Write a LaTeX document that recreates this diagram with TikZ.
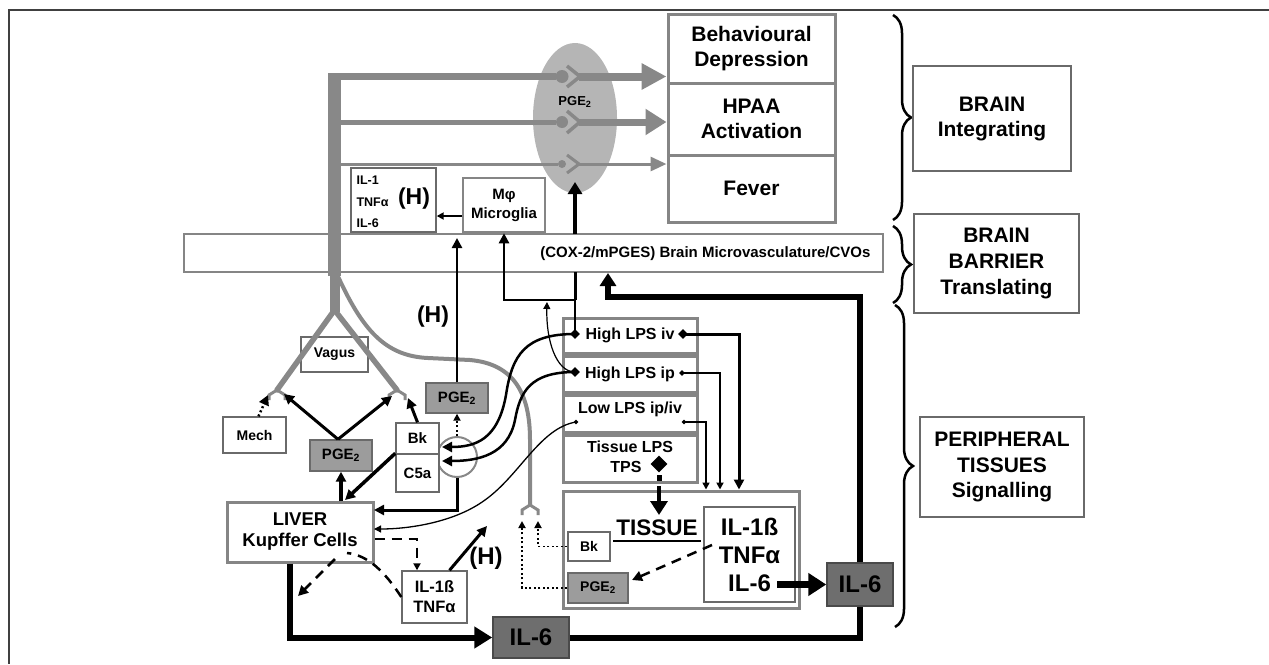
\documentclass[tikz,border=0pt]{standalone}
\usepackage{fontspec}
\setmainfont{Liberation Sans}
\usetikzlibrary{arrows.meta,decorations.pathreplacing,shapes.geometric}
\definecolor{boxg}{HTML}{858585}
\definecolor{thing}{HTML}{6A6A6A}
\definecolor{nerveg}{HTML}{888888}
\definecolor{ellg}{HTML}{B5B5B5}
\definecolor{pgeg}{HTML}{9C9C9C}
\definecolor{ilg}{HTML}{6E6E6E}
\definecolor{iledge}{HTML}{4A4A4A}
\definecolor{framec}{HTML}{404040}
\newcommand\myfs[2]{\fontsize{#1}{#2}\selectfont\bfseries}
\begin{document}
\begin{tikzpicture}[x=1pt,y=-1pt,
  bigbox/.style={draw=boxg, line width=3pt, fill=white, inner sep=0pt, align=center},
  thinbox/.style={draw=thing, line width=1.4pt, fill=white, inner sep=0pt, align=center},
  pgebox/.style={draw=thing, line width=1.4pt, fill=pgeg, inner sep=0pt, align=center},
  ilbox/.style={draw=iledge, line width=1.5pt, fill=ilg, inner sep=0pt, align=center, font=\myfs{24}{28}},
  nerve/.style={draw=nerveg},
  tipS/.style={-{Triangle[length=7pt,width=7pt]}},
  tipM/.style={-{Triangle[length=10pt,width=10pt]}},
  tipL/.style={-{Triangle[length=18pt,width=21pt]}},
  dia/.style={diamond, fill=black, inner sep=0pt},
  dashd/.style={dash pattern=on 10pt off 7pt},
  dotd/.style={dash pattern=on 2pt off 2.5pt},
  rfork/.pic={\draw[nerveg, line width=3pt] (-8,10)--(-8,5)--(0,0)--(8,5)--(8,10);},
  bracestyle/.style={decorate, decoration={brace, amplitude=18pt}, line width=2.5pt}
]
\useasboundingbox (0,0) rectangle (1269,664);
% frame
\draw[framec, line width=2pt] (8,9.5) -- (1269,9.5);
\draw[framec, line width=2pt] (9,9) -- (9,664);

% braces
\draw[bracestyle] (893,15) -- (893,220);
\draw[bracestyle] (893,226) -- (893,303);
\draw[bracestyle] (895,305) -- (895,627);

% right label boxes
\node[thinbox, minimum width=158pt, minimum height=105pt, font=\myfs{21}{25}] (bi) at (992,118.5) {BRAIN\\Integrating};
\node[thinbox, minimum width=165pt, minimum height=99pt, font=\myfs{21}{26}] (bb) at (996.5,263.5) {BRAIN\\BARRIER\\Translating};
\node[thinbox, minimum width=164pt, minimum height=100pt, font=\myfs{21}{25.5}] (pt) at (1002,467) {PERIPHERAL\\TISSUES\\Signalling};

% brain output boxes
\node[bigbox, minimum width=167pt, minimum height=69pt, font=\myfs{21}{25}] (beh) at (751.5,48.5) {Behavioural\\Depression};
\node[bigbox, minimum width=167pt, minimum height=72pt, font=\myfs{21}{25}] (hpaa) at (751.5,119) {HPAA\\Activation};
\node[bigbox, minimum width=167pt, minimum height=67pt, font=\myfs{21}{25}] (fev) at (751.5,188.5) {Fever};

% ellipse
\node[ellipse, fill=ellg, minimum width=84pt, minimum height=150pt, inner sep=0pt] (ell) at (575,118) {};
\node[font=\myfs{13}{15}] (pgeell) at (575,102) {PGE\textsubscript{2}};

% microvasculature bar
\node[draw=boxg, line width=1.8pt, minimum width=699pt, minimum height=38pt, inner sep=0pt] (vasc) at (533.5,253) {};
\node[anchor=east, font=\myfs{15}{18}] (vasctxt) at (874,254) {(COX-2/mPGES) Brain Microvasculature/CVOs};

% vagus box (under nerve)
\node[thinbox, minimum width=67pt, minimum height=35pt, font=\myfs{14}{16}] (vagus) at (334.5,354.5) {Vagus};

% nerves
\draw[nerve, line width=13pt] (334.5,73) -- (334.5,276);
\draw[nerve, line width=10pt] (334.5,270) -- (334.5,312);
\draw[nerve, line width=5.5pt, line cap=round] (334.5,310) -- (277,390);
\draw[nerve, line width=5.5pt, line cap=round] (334.5,310) -- (397,390);
\pic at (277,390) {rfork};
\pic at (397,390) {rfork};
\draw[nerve, line width=4pt] (336,272) .. controls (362,330) and (385,356) .. (428,358) -- (470,360) .. controls (515,364) and (530,395) .. (530,440) -- (530,505);
\pic at (530,505) {rfork};

\draw[nerve, line width=7pt] (328,76.5) -- (556,76.5);
\draw[nerve, line width=5pt] (340,122) -- (556,122);
\draw[nerve, line width=3pt] (340,164) -- (558,164);
\fill[nerveg] (562,76.5) circle (6.5pt);
\fill[nerveg] (562,122) circle (6pt);
\fill[nerveg] (562,164) circle (4pt);
\draw[nerve, line width=3.5pt] (567,66) -- (580,76.5) -- (567,87);
\draw[nerve, line width=3.5pt] (567,111) -- (580,122) -- (567,133);
\draw[nerve, line width=3pt] (567,155) -- (579,164) -- (567,173);
\draw[nerve, line width=8pt, -{Triangle[length=25pt,width=25pt]}] (579,76.5) -- (beh.west |- 0,76.5);
\draw[nerve, line width=7pt, -{Triangle[length=21pt,width=25pt]}] (579,122) -- (hpaa.west |- 0,122);
\draw[nerve, line width=3pt, -{Triangle[length=16pt,width=14pt]}] (578,164) -- (fev.west |- 0,164);

% brain cytokine boxes
\node[thinbox, minimum width=85pt, minimum height=64pt] (ilb) at (393.5,200) {};
\node[anchor=west, font=\myfs{12.5}{14}] (ilb1) at (353,180) {IL-1};
\node[anchor=west, font=\myfs{12.5}{14}] (ilb2) at (353,202) {TNFα};
\node[anchor=west, font=\myfs{12.5}{14}] (ilb3) at (353,223) {IL-6};
\node[font=\myfs{23}{26}] (ilbh) at (414,199) {(H)};
\node[bigbox, line width=2.5pt, minimum width=82pt, minimum height=54pt, font=\myfs{15}{19}] (mic) at (504,205) {Mφ\\Microglia};
\draw[line width=2pt, tipS] ([yshift=-11pt]mic.west) -- ([yshift=-16pt]ilb.east);

% LPS boxes
\node[bigbox, minimum width=134pt, minimum height=35pt, font=\myfs{16}{19}] (hiv) at (630,335.5) {High LPS iv};
\node[bigbox, minimum width=134pt, minimum height=36pt, font=\myfs{16}{19}] (hip) at (630,374) {High LPS ip};
\node[bigbox, minimum width=134pt, minimum height=37pt] (low) at (630,413.5) {};
\node[font=\myfs{16}{19}] (lowtxt) at (630,409) {Low LPS ip/iv};
\node[bigbox, minimum width=134pt, minimum height=47pt] (tis) at (630,458.5) {};
\node[font=\myfs{16}{19}] (tistxt) at (630,447) {Tissue LPS};
\node[font=\myfs{16}{19}] (tpstxt) at (626,467) {TPS};
\node[dia, minimum size=17pt] (tpsd) at (659,464) {};

\node[dia, minimum size=10pt] (hivL) at (575,334) {};
\node[dia, minimum size=10pt] (hivR) at (683,334) {};
\node[dia, minimum size=10pt] (hipL) at (575,372) {};
\node[dia, minimum size=6pt] (hipR) at (682,373) {};
\node[dia, minimum size=5pt] (lowL) at (576,422) {};
\node[dia, minimum size=5pt] (lowR) at (684,422) {};

% tissue box
\node[bigbox, minimum width=236pt, minimum height=117pt] (tiss) at (681,549.5) {};
\node[thinbox, minimum width=91pt, minimum height=95pt, font=\myfs{24}{28}] (cyt) at (749.5,554.5) {IL-1ß\\TNFα\\IL-6};
\node[font=\myfs{22.5}{26}] (tisstxt) at (657,528) {TISSUE};
\draw[line width=2pt] (613,541) -- (701,541);
\node[thinbox, minimum width=42pt, minimum height=29pt, font=\myfs{14}{16}] (tbk) at (589,546.5) {Bk};
\node[pgebox, minimum width=60pt, minimum height=30pt, font=\myfs{14}{16}] (tpge) at (598,588) {PGE\textsubscript{2}};
\node[ilbox, minimum width=66pt, minimum height=43pt] (il6r) at (860,584.5) {IL-6};
\node[ilbox, minimum width=76pt, minimum height=41pt] (il6b) at (531,637.5) {IL-6};

% peripheral left
\node[bigbox, minimum width=146pt, minimum height=60pt, font=\myfs{18.5}{21}] (liver) at (300,532) {LIVER\\Kupffer Cells};
\node[pgebox, minimum width=62pt, minimum height=31pt, font=\myfs{15}{17}] (lpge) at (341,455.5) {PGE\textsubscript{2}};
\node[thinbox, minimum width=63pt, minimum height=36pt, font=\myfs{14}{16}] (mech) at (254.5,435) {Mech};
\node[circle, draw=nerveg, line width=2pt, minimum size=40pt, inner sep=0pt] (circ) at (457,457) {};
\node[thinbox, minimum width=43pt, minimum height=31pt, font=\myfs{15}{17}] (bk) at (417.5,438.5) {Bk};
\node[thinbox, minimum width=43pt, minimum height=38pt, font=\myfs{15}{17}] (c5a) at (417.5,473) {C5a};
\node[pgebox, minimum width=62pt, minimum height=30pt, font=\myfs{15}{17}] (upge) at (457,398) {PGE\textsubscript{2}};
\node[thinbox, minimum width=65pt, minimum height=52pt, font=\myfs{16.5}{20}] (ilL) at (434.5,597) {IL-1ß\\TNFα};
\node[font=\myfs{23}{26}] (h2) at (433,317) {(H)};
\node[font=\myfs{24}{26}] (h3) at (486,558) {(H)};

% coordinates for free ends
\coordinate (j1) at (575,300);
\coordinate (vbot) at (575,272);
\coordinate (vtop) at (575,234);
\coordinate (ellin) at (575,182);
\coordinate (rl) at (284,394);
\coordinate (rr) at (392,396);
\coordinate (rr2) at (408,398);
\coordinate (livtop) at (345,500);
\coordinate (livr1) at (374,510);
\coordinate (livr2) at (374,529);
\coordinate (bkin) at (442,447);
\coordinate (c5ain) at (442,461);
\coordinate (vascin) at (457,238);
\coordinate (vascin2) at (608,273);
\coordinate (jup) at (547,302);
\coordinate (mechend) at (268,395);
\coordinate (tbkend) at (538,521);
\coordinate (tpgeend) at (522,521);
\coordinate (hup) at (487,526);
\coordinate (dashend) at (632,580);

% brain links
\draw[line width=2.5pt] (hivL.center) -- (j1);
\draw[line width=2.5pt, tipM] (j1) -| (mic.south);
\draw[line width=3pt] (j1) -- (vbot);
\draw[line width=4pt, -{Triangle[length=12pt,width=14pt]}] (vtop) -- (ellin);
\draw[line width=1.2pt, tipS] (hipL.center) .. controls (556,372) and (546,340) .. (jup);

% LPS to Bk / C5a / liver
\draw[line width=2.5pt, tipM] (hivL.center) .. controls (525,334) and (512,355) .. (506,395) .. controls (498,440) and (475,447) .. (bkin);
\draw[line width=2.5pt, tipM] (hipL.center) .. controls (530,372) and (520,392) .. (515,420) .. controls (508,455) and (478,461) .. (c5ain);
\draw[line width=1.3pt, tipS] (lowL.center) .. controls (540,428) and (520,475) .. (485,500) .. controls (455,522) and (410,529) .. (livr2);

% LPS to tissue
\draw[line width=3pt, tipM] (hivR.center) -| ([xshift=58pt]tiss.north);
\draw[line width=1.8pt, tipS] (hipR.center) -| ([xshift=39pt]tiss.north);
\draw[line width=1.5pt, tipS] (lowR.center) -| ([xshift=25pt]tiss.north);
\draw[line width=5pt] (659,475) -- (659,481);
\draw[line width=4pt, -{Triangle[length=14pt,width=17pt]}] ([yshift=-22pt]tpsd.center) -- ([yshift=-51pt]tpsd.center);

% tissue outputs
\draw[line width=7pt, -{Triangle[length=18pt,width=22pt]}] (777,584.5) -- (il6r.west);
\draw[line width=2.5pt, dashd, tipM] (712,545) -- (dashend);
\draw[line width=6pt, -{Triangle[length=13pt,width=16pt]}] (il6r.north) |- (608,297) -- (vascin2);
\draw[line width=6pt] (il6b.east) -| (il6r.south);
\draw[line width=6pt, tipL] ([xshift=-10pt]liver.south) |- (il6b.west);

% liver / PGE / vagus
\draw[line width=4pt, tipM] (lpge.south |- liver.north) -- (lpge.south);
\draw[line width=3pt, tipM] ([xshift=-3pt]lpge.north) -- (rl);
\draw[line width=3pt, tipM] ([xshift=-3pt]lpge.north) -- (rr);
\draw[line width=3pt, tipM] (bk.north) -- (rr2);
\draw[line width=3.5pt, tipM] (c5a.north west) -- (livtop);
\draw[line width=2.5pt, dotd, tipM] ([xshift=4pt]mech.north) -- (mechend);
\draw[line width=3pt, tipM] (circ.south) |- (livr1);
\draw[line width=2pt, dotd, tipS] (circ.north) -- (upge.south);
\draw[line width=2.5pt, tipM] (upge.north) -- (vascin);

% liver cytokines
\draw[line width=2.5pt, dashd, tipS] ([yshift=-7pt]liver.east) -| (ilL.north -| 417,0);
\draw[line width=2.5pt, dashd] (ilL.west) .. controls (385,572) and (368,555) .. (347,553);
\draw[line width=2.5pt, dashd, tipM] (335,559) -- (298,596);
\draw[line width=3pt, tipM] ([xshift=15pt]ilL.north) -- (hup);

% tissue dotted to nerve ending
\draw[line width=1.8pt, dotd, tipS] (tbk.west) -| (tbkend);
\draw[line width=1.8pt, dotd, tipS] (tpge.west) -| (tpgeend);
\end{tikzpicture}
\end{document}
